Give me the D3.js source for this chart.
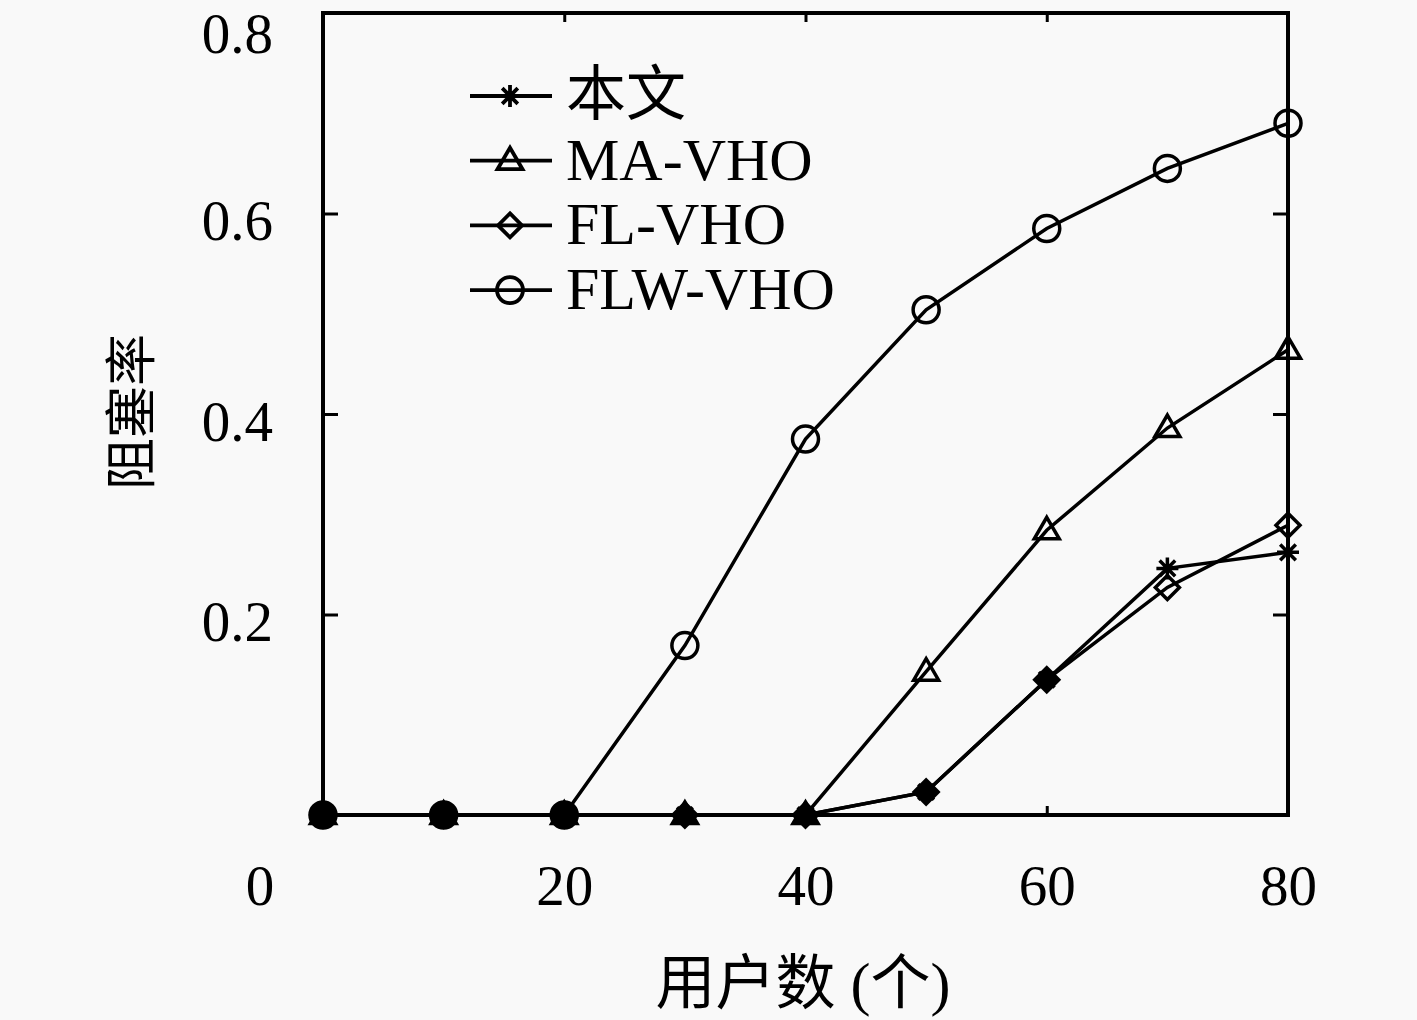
<!DOCTYPE html>
<html>
<head>
<meta charset="utf-8">
<script src="https://cdn.jsdelivr.net/npm/d3@7"></script>
<style>
  html, body { margin: 0; padding: 0; background: #f9f9f9; }
  svg { display: block; }
  text { font-family: "Liberation Serif", "Noto Sans CJK SC", serif; fill: #000; }
</style>
</head>
<body>
<div id="chart"></div>
<script>
// users on x axis
var users = [0, 10, 20, 30, 40, 50, 60, 70, 80];

// blocking rate per method
var benwen = [0, 0, 0, 0, 0, 0.023, 0.135, 0.246, 0.262];
var maVho  = [0, 0, 0, 0, 0, 0.143, 0.284, 0.386, 0.464];
var flVho  = [0, 0, 0, 0, 0, 0.023, 0.135, 0.227, 0.289];
var flwVho = [0, 0, 0, 0.169, 0.375, 0.504, 0.585, 0.645, 0.690];

var seriesNames = ["本文", "MA-VHO", "FL-VHO", "FLW-VHO"];
var seriesSymbols = ["asterisk", "triangle", "diamond", "circle"];

var xTicks = [20, 40, 60, 80];
var yTicks = [0.2, 0.4, 0.6, 0.8];

var W = 1417, H = 1020;
var pLeft = 323, pRight = 1288, pTop = 13, pBottom = 815;

var svg = d3.select("#chart").append("svg")
    .attr("width", W)
    .attr("height", H);

var x = d3.scaleLinear().domain([0, 80]).range([pLeft, pRight]);
var y = d3.scaleLinear().domain([0, 0.8]).range([pBottom, pTop]);

var allSeries = [benwen, maVho, flVho, flwVho];

// marker path generators
function markerPath(kind) {
	if (kind == "circle") return d3.symbol().type(d3.symbolCircle).size(Math.PI * 13 * 13)();
	if (kind == "triangle") return "M0,-13L12.5,8.5L-12.5,8.5Z";
	if (kind == "diamond") return "M0,-12L12,0L0,12L-12,0Z";
	// asterisk: plus + cross
	var r = 11, d = 7.8;
	return "M" + (-r) + ",0L" + r + ",0M0," + (-r) + "L0," + r +
		"M" + (-d) + "," + (-d) + "L" + d + "," + d +
		"M" + (-d) + "," + d + "L" + d + "," + (-d);
}

// ticks on all four sides, pointing inwards
var xAxisB = svg.append("g")
	.attr("transform", "translate(0," + pBottom + ")")
	.call(d3.axisBottom(x).tickValues(xTicks).tickSize(-9).tickPadding(52));
var xAxisT = svg.append("g")
	.attr("transform", "translate(0," + pTop + ")")
	.call(d3.axisTop(x).tickValues(xTicks).tickSize(-9).tickFormat(""));
var yAxisL = svg.append("g")
	.attr("transform", "translate(" + pLeft + ",0)")
	.call(d3.axisLeft(y).tickValues(yTicks).tickSize(-15).tickPadding(50).tickFormat(d3.format(".1f")));
var yAxisR = svg.append("g")
	.attr("transform", "translate(" + pRight + ",0)")
	.call(d3.axisRight(y).tickValues(yTicks).tickSize(-15).tickFormat(""));

[xAxisB, xAxisT, yAxisL, yAxisR].forEach(function(g) {
	g.select(".domain").remove();
	g.selectAll(".tick line").attr("stroke", "#000").attr("stroke-width", 3);
	g.selectAll("text").style("font-size", "57px").attr("fill", "#000");
});
xAxisB.selectAll("text").attr("dy", "0").attr("y", 90);
// top label nudged down so it stays inside the page
yAxisL.selectAll("text").attr("dy", "0.32em").attr("y", function(d) { return d == 0.8 ? 21 : 8; });

// origin label
svg.append("text")
	.attr("x", x(0) - 63)
	.attr("y", pBottom + 90)
	.attr("text-anchor", "middle")
	.style("font-size", "57px")
	.text("0");

// frame
svg.append("rect")
	.attr("x", pLeft).attr("y", pTop)
	.attr("width", pRight - pLeft).attr("height", pBottom - pTop)
	.attr("fill", "none")
	.attr("stroke", "#000")
	.attr("stroke-width", 4);

var line = d3.line()
	.x(function(d, i) { return x(users[i]); })
	.y(function(d) { return y(d); });

allSeries.forEach(function(vals, s) {
	svg.append("path")
		.datum(vals)
		.attr("d", line)
		.attr("fill", "none")
		.attr("stroke", "#000")
		.attr("stroke-width", 3.5);
});

allSeries.forEach(function(vals, s) {
	svg.append("g").selectAll("path")
		.data(vals)
		.enter().append("path")
		.attr("transform", function(d, i) { return "translate(" + x(users[i]) + "," + y(d) + ")"; })
		.attr("d", markerPath(seriesSymbols[s]))
		.attr("fill", function(d, i) {
			// coinciding markers render as solid blobs
			var hit = allSeries.some(function(o, k) { return k != s && Math.abs(o[i] - d) < 0.005; });
			return (hit && seriesSymbols[s] != "asterisk") ? "#000" : "none";
		})
		.attr("stroke", "#000")
		.attr("stroke-width", 3.5);
});

// legend
var legend = svg.append("g").attr("class", "legend");
seriesNames.forEach(function(name, i) {
	var cy = 96 + i * 64.7;
	var g = legend.append("g").attr("transform", "translate(0," + cy + ")");
	g.append("line")
		.attr("x1", 470).attr("x2", 552)
		.attr("y1", 0).attr("y2", 0)
		.attr("stroke", "#000").attr("stroke-width", 3.8);
	g.append("path")
		.attr("transform", "translate(510,0)")
		.attr("d", markerPath(seriesSymbols[i]))
		.attr("fill", "none")
		.attr("stroke", "#000")
		.attr("stroke-width", 3.8);
	g.append("text")
		.attr("x", 566)
		.attr("y", 19)
		.style("font-size", "60px")
		.text(name);
});

// axis titles
svg.append("text")
	.attr("transform", "translate(150,412) rotate(-90)")
	.attr("text-anchor", "middle")
	.style("font-size", "52px")
	.text("阻塞率");

svg.append("text")
	.attr("x", 803)
	.attr("y", 1004)
	.attr("text-anchor", "middle")
	.style("font-size", "60px")
	.text("用户数 (个)");
</script>
</body>
</html>
